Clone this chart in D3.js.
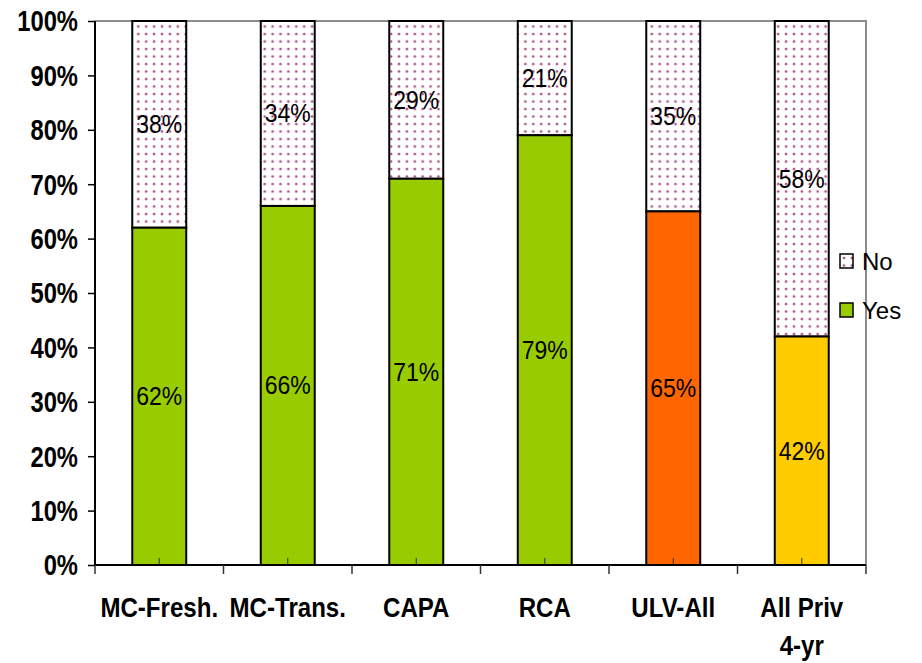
<!DOCTYPE html>
<html><head><meta charset="utf-8">
<script src="https://cdn.jsdelivr.net/npm/d3@7"></script>
<style>body{margin:0;background:#fff}svg{display:block}</style>
</head><body>
<svg id="c" width="922" height="663"></svg>
<script>
const categories = ["MC-Fresh.", "MC-Trans.", "CAPA", "RCA", "ULV-All", "All Priv\n4-yr"];
const yesValues = [62, 66, 71, 79, 65, 42];
const noValues = [38, 34, 29, 21, 35, 58];
const yesColors = ["#99CC00", "#99CC00", "#99CC00", "#99CC00", "#FF6600", "#FFCC00"];
const yTicks = [0, 10, 20, 30, 40, 50, 60, 70, 80, 90, 100];

const svg = d3.select("#c");
const m = {l: 95, r: 866, t: 21, b: 565};
const x = d3.scaleBand().domain(categories).range([m.l, m.r]).paddingInner(0.58).paddingOuter(0.29);
const xb = d3.scaleBand().domain(categories).range([m.l, m.r]);
const y = d3.scaleLinear().domain([0, 100]).range([m.b, m.t]);

const defs = svg.append("defs");
const pat = defs.append("pattern").attr("id", "dots").attr("patternUnits", "userSpaceOnUse")
  .attr("width", 7.9).attr("height", 7.5).attr("x", 2).attr("y", 2);
pat.append("rect").attr("width", 7.9).attr("height", 7.5).attr("fill", "#fff");
pat.append("circle").attr("cx", 2).attr("cy", 2).attr("r", 1.3).attr("fill", "#b0528a");

// plot border (top/right gray)
svg.append("path").attr("d", `M${m.l},${m.t}H${m.r}V${m.b}`).attr("fill", "none")
  .attr("stroke", "#8c8c8c").attr("stroke-width", 2);

const font = "Liberation Sans, Arial, sans-serif";

// No segments
svg.selectAll(".no").data(categories).join("rect")
  .attr("x", d => x(d)).attr("width", x.bandwidth())
  .attr("y", (d, i) => y(yesValues[i] + noValues[i]))
  .attr("height", (d, i) => y(yesValues[i]) - y(yesValues[i] + noValues[i]))
  .attr("fill", "url(#dots)").attr("stroke", "#000").attr("stroke-width", 2);
// Yes segments
svg.selectAll(".yes").data(categories).join("rect")
  .attr("x", d => x(d)).attr("width", x.bandwidth())
  .attr("y", (d, i) => y(yesValues[i]))
  .attr("height", (d, i) => y(0) - y(yesValues[i]))
  .attr("fill", (d, i) => yesColors[i]).attr("stroke", "#000").attr("stroke-width", 2);

// center ticks inside bars
svg.selectAll(".ct").data(categories).join("line")
  .attr("x1", d => xb(d) + xb.bandwidth() / 2).attr("x2", d => xb(d) + xb.bandwidth() / 2)
  .attr("y1", m.b).attr("y2", m.b - 7).attr("stroke", "#333").attr("stroke-width", 1);

// value labels (slightly condensed)
function valLabel(cls, getY, getT) {
  svg.selectAll("." + cls).data(categories).join("text")
    .attr("transform", (d, i) => `translate(${x(d) + x.bandwidth() / 2},${getY(i)}) scale(0.92,1)`)
    .attr("text-anchor", "middle").attr("dominant-baseline", "central")
    .attr("font-family", font).attr("font-size", 25).attr("fill", "#000")
    .text((d, i) => getT(i));
}
valLabel("yl", i => y(yesValues[i] / 2), i => yesValues[i] + "%");
valLabel("nl", i => y(yesValues[i] + noValues[i] / 2), i => noValues[i] + "%");

// Y axis
const ya = svg.append("g").attr("transform", `translate(${m.l},0)`)
  .call(d3.axisLeft(y).tickValues(yTicks).tickSize(7).tickFormat(d => d + "%"));
ya.select(".domain").attr("stroke", "#000").attr("stroke-width", 2).attr("d", `M0,${m.t}V${m.b}`);
ya.selectAll(".tick line").attr("stroke", "#000").attr("stroke-width", 1.5);
ya.selectAll(".tick text")
  .attr("x", null).attr("dy", null)
  .attr("transform", "translate(-17,0) scale(0.82,1)")
  .attr("dominant-baseline", "central")
  .attr("font-family", font).attr("font-size", 29).attr("font-weight", "bold")
  .attr("fill", "#000");

// X axis line and boundary ticks
svg.append("line").attr("x1", m.l).attr("x2", m.r).attr("y1", m.b).attr("y2", m.b)
  .attr("stroke", "#000").attr("stroke-width", 2);
const bounds = categories.map(d => xb(d)).concat([m.r]);
svg.selectAll(".bt").data(bounds).join("line")
  .attr("x1", d => d).attr("x2", d => d).attr("y1", m.b).attr("y2", m.b + 9)
  .attr("stroke", "#333").attr("stroke-width", 1.5);

// X labels
svg.selectAll(".xl").data(categories).join("text")
  .attr("transform", d => `translate(${xb(d) + xb.bandwidth() / 2},617) scale(0.86,1)`)
  .attr("text-anchor", "middle").attr("font-family", font).attr("font-size", 28)
  .attr("font-weight", "bold").attr("fill", "#000")
  .each(function(d) {
    const lines = d.split("\n");
    d3.select(this).selectAll("tspan").data(lines).join("tspan")
      .attr("x", 0).attr("dy", (l, i) => i ? 38 : 0).text(l => l);
  });

// Legend
const legend = [{name: "No", fill: "url(#dots)"}, {name: "Yes", fill: "#99CC00"}];
const lg = svg.selectAll(".lg").data(legend).join("g")
  .attr("transform", (d, i) => `translate(840,${254 + i * 49})`);
lg.append("rect").attr("width", 13).attr("height", 14).attr("fill", d => d.fill)
  .attr("stroke", "#000").attr("stroke-width", 1.5);
lg.append("text").attr("x", 22).attr("y", 7).attr("dominant-baseline", "central")
  .attr("font-family", font).attr("font-size", 24).attr("fill", "#000").text(d => d.name);
</script>
</body></html>
